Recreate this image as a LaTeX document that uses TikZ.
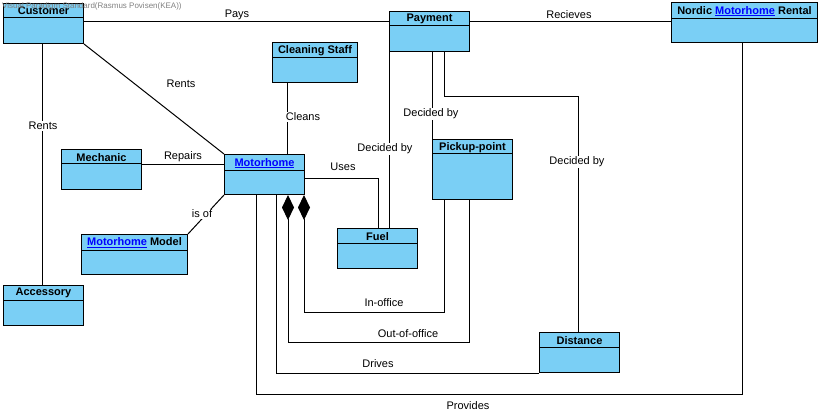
\documentclass[tikz,border=0pt]{standalone}
\usepackage{fontspec}
\setmainfont{Liberation Sans}
\usetikzlibrary{arrows.meta}
\definecolor{clsfill}{HTML}{7ACFF5}
\definecolor{linkblue}{HTML}{0000FF}
\newcommand\umlcls[7]{%
  \node[clsbox, minimum width=#4pt, minimum height=#5pt, anchor=north west] (#1) at (#2,#3) {};
  \draw[line width=1pt] ([yshift=-#6pt]#1.north west) -- ([yshift=-#6pt]#1.north east);
  \node[clstitle, minimum height=#6pt, anchor=north] (#1-t) at ([yshift=-0.5pt]#1.north) {#7};
}
\newcommand\mhlink{\textcolor{linkblue}{\underline{Motorhome}}}
\begin{document}
\begin{tikzpicture}[x=1pt,y=-1pt,
  clsbox/.style={draw, line width=1pt, fill=clsfill, inner sep=0pt},
  clstitle/.style={font=\fontsize{11}{13}\selectfont\bfseries, inner sep=0pt},
  conn/.style={line width=1pt},
  lbl/.style={font=\fontsize{11}{13}\selectfont, inner sep=1pt},
  lblw/.style={lbl, fill=white},
  comp/.style={conn, -{Diamond[length=25pt,width=12pt]}}]
\useasboundingbox (0,0) rectangle (820,417);
% classes
\umlcls{cust}{3}{3}{80}{40}{15}{Customer}
\umlcls{pay}{389}{11}{80}{40}{15}{Payment}
\umlcls{nmr}{671}{2}{146}{40}{17}{Nordic \mhlink\ Rental}
\umlcls{cs}{272}{42}{85}{40}{16}{Cleaning Staff}
\umlcls{mh}{224}{154}{80}{40}{17}{\mhlink}
\umlcls{fuel}{337}{228}{80}{40}{15}{Fuel}
\umlcls{mech}{61}{149}{80}{40}{15}{Mechanic}
\umlcls{mm}{81}{234}{106}{40}{16}{\mhlink\ Model}
\umlcls{pp}{432}{139}{80}{60}{15}{Pickup-point}
\umlcls{acc}{3}{285}{80}{40}{15}{Accessory}
\umlcls{dist}{539}{332}{80}{40}{15}{Distance}
% connectors
\draw[conn] (cust.east |- 0,22) -- (pay.west |- 0,22);
\node[lbl] (lpays) at (237,15) {Pays};
\draw[conn] (pay.east |- 0,22) -- (nmr.west |- 0,22);
\node[lbl] (lrec) at (569,15) {Recieves};
\draw[conn] (cust.south -| 42,0) -- (acc.north -| 42,0);
\node[lblw] (lrents1) at (43,126) {Rents};
\draw[conn] (cust.south east) -- (mh.north west);
\node[lbl] (lrents2) at (181,84) {Rents};
\draw[conn] (cs.south -| 287,0) -- (mh.north -| 287,0);
\node[lblw] (lcleans) at (303,117) {Cleans};
\draw[conn] (mech.east |- 0,165) -- (mh.west |- 0,165);
\node[lbl] (lrep) at (183,157) {Repairs};
\draw[conn] (mm.north east) -- (mh.south west);
\node[lblw] (lisof) at (202,214) {is of};
\draw[conn] (mh.east |- 0,179) -| (fuel.north -| 378,0);
\node[lbl] (luses) at (343,167) {Uses};
\draw[conn] (pay.south -| 389,0) -- (fuel.north -| 389,0);
\node[lblw] (ldec1) at (385,149) {Decided by};
\draw[conn] (pay.south -| 432,0) -- (pp.north west);
\node[lblw] (ldec2) at (431,114) {Decided by};
\draw[conn] (pay.south -| 444,0) |- (578,97) -- (dist.north -| 578,0);
\node[lblw] (ldec3) at (577,162) {Decided by};
\draw[comp] (pp.south -| 444,0) |- (304,312) -- (mh.south -| 304,0);
\node[lbl] (linoff) at (384,303) {In-office};
\draw[comp] (pp.south -| 469,0) |- (288,342) -- (mh.south -| 288,0);
\node[lbl] (loutoff) at (408,334) {Out-of-office};
\draw[conn] (mh.south -| 276,0) |- (dist.south west);
\node[lbl] (ldrives) at (378,364) {Drives};
\draw[conn] (mh.south -| 256,0) |- (742,394) -- (nmr.south -| 742,0);
\node[lbl] (lprov) at (468,406) {Provides};
% watermark
\node[anchor=west, inner sep=0pt, text=black!50, font=\fontsize{8}{9}\selectfont] (wm) at (2,6) {Visual Paradigm Standard(Rasmus Povisen(KEA))};
\end{tikzpicture}
\end{document}
